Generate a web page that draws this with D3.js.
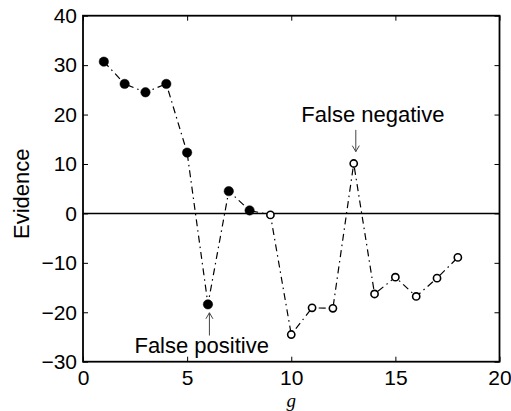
<!DOCTYPE html>
<html><head><meta charset="utf-8">
<script src="https://cdn.jsdelivr.net/npm/d3@7"></script>
<style>body{margin:0;background:#fff}svg{display:block}text{font-family:"Liberation Sans",Arial,Helvetica,sans-serif}</style>
</head><body><svg id="c" width="511" height="411"></svg>
<script>
const gValues = [1,2,3,4,5,6,7,8,9,10,11,12,13,14,15,16,17,18];
const evidence = [30.7,26.2,24.5,26.2,12.3,-18.4,4.5,0.6,-0.3,-24.5,-19.1,-19.2,10.1,-16.3,-12.9,-16.8,-13.1,-8.9];
const filled = [true,true,true,true,true,true,true,true,false,false,false,false,false,false,false,false,false,false];
const xTicks = [0,5,10,15,20];
const yTicks = [-30,-20,-10,0,10,20,30,40];
const annotations = [
  {label:"False positive", tx:5.70, ty:-28.2, ax:6.07, y1:-24.7, y2:-20.1},
  {label:"False negative", tx:13.92, ty:18.55, ax:13.1, y1:16.9, y2:12.5}
];

(function(){
const svg = d3.select("#c");
const L=83, R=499.5, T=15.7, B=361.7;
const x = d3.scaleLinear().domain([0,20]).range([L,R]);
const y = d3.scaleLinear().domain([-30,40]).range([B,T]);

// zero line
svg.append("line").attr("x1",L).attr("x2",R).attr("y1",y(0)).attr("y2",y(0))
  .attr("stroke","#000").attr("stroke-width",1.5);

// axes with inward ticks
const fs = 21;
const axB = svg.append("g").attr("transform",`translate(0,${B})`)
  .call(d3.axisBottom(x).tickValues(xTicks).tickSize(-5).tickPadding(8).tickFormat(d3.format("d")));
const axT = svg.append("g").attr("transform",`translate(0,${T})`)
  .call(d3.axisTop(x).tickValues(xTicks).tickSize(-5).tickFormat(""));
const axL = svg.append("g").attr("transform",`translate(${L},0)`)
  .call(d3.axisLeft(y).tickValues(yTicks).tickSize(-5).tickPadding(6).tickFormat(d=>d<0?"\u2212"+(-d):d));
const axR = svg.append("g").attr("transform",`translate(${R},0)`)
  .call(d3.axisRight(y).tickValues(yTicks).tickSize(-5).tickFormat(""));
[axB,axT,axL,axR].forEach(a=>{
  a.select(".domain").remove();
  a.selectAll("line").attr("stroke","#000").attr("stroke-width",1);
  a.selectAll("text").attr("font-size",fs).attr("fill","#000").style("font-family","'Liberation Sans',Arial,sans-serif");
});
svg.append("rect").attr("x",L).attr("y",T).attr("width",R-L).attr("height",B-T)
  .attr("fill","none").attr("stroke","#000").attr("stroke-width",1.8);

// series line
const data = gValues.map((g,i)=>({g,v:evidence[i],f:filled[i]}));
svg.append("path").datum(data)
  .attr("d", d3.line().x(d=>x(d.g)).y(d=>y(d.v)))
  .attr("fill","none").attr("stroke","#000").attr("stroke-width",1.2)
  .attr("stroke-dasharray","7,4,1.5,4");

svg.selectAll("circle.m").data(data).join("circle").attr("class","m")
  .attr("cx",d=>x(d.g)).attr("cy",d=>y(d.v))
  .attr("r",d=>d.f?4.7:3.6)
  .attr("fill",d=>d.f?"#000":"#fff")
  .attr("stroke","#000").attr("stroke-width",d=>d.f?0.5:1.6);

// annotations
annotations.forEach(a=>{
  svg.append("text").attr("x",x(a.tx)).attr("y",y(a.ty)).attr("text-anchor","middle")
    .attr("font-size",22).attr("fill","#000").text(a.label);
  const xa = x(a.ax), ya1 = y(a.y1), ya2 = y(a.y2);
  svg.append("line").attr("x1",xa).attr("x2",xa).attr("y1",ya1).attr("y2",ya2)
    .attr("stroke","#444").attr("stroke-width",1);
  const dir = ya2>ya1?1:-1;
  svg.append("path").attr("d",`M${xa-3.5},${ya2-dir*6}L${xa},${ya2}L${xa+3.5},${ya2-dir*6}`)
    .attr("fill","none").attr("stroke","#444").attr("stroke-width",1);
});

// axis labels
svg.append("text").attr("transform",`translate(29,${(T+B)/2+5}) rotate(-90)`)
  .attr("text-anchor","middle").attr("font-size",22).attr("fill","#000").text("Evidence");
svg.append("text").attr("x",x(10)).attr("y",406.5).attr("text-anchor","middle")
  .attr("font-size",19).attr("font-style","italic").style("font-family","'Liberation Serif','DejaVu Serif',serif")
  .attr("fill","#000").text("g");
})();
</script></body></html>
